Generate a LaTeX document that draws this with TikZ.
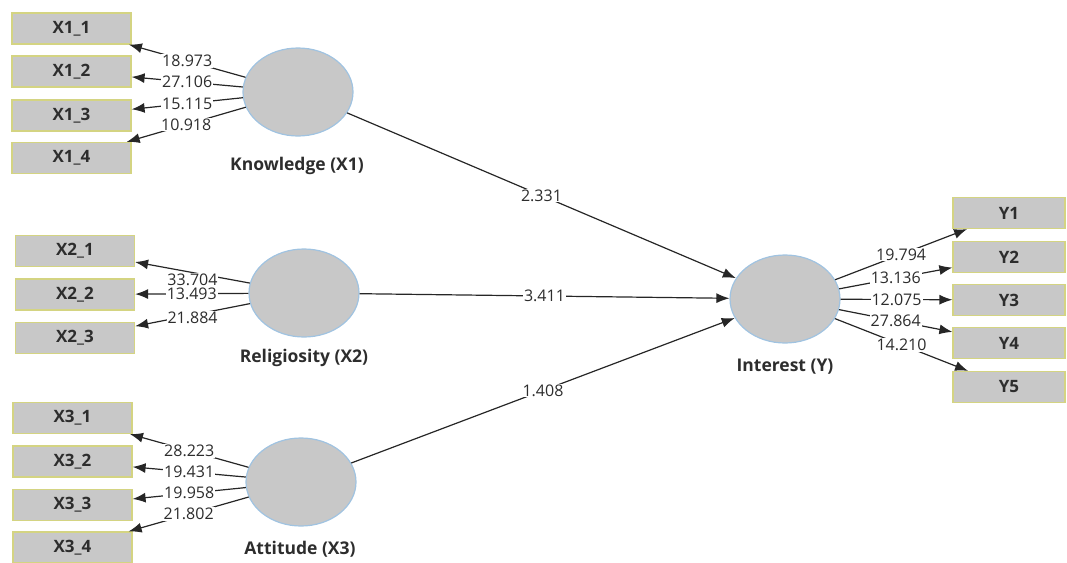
\documentclass[tikz,border=0pt]{standalone}
\usepackage{fontspec}
\setmainfont{Open Sans}
\usetikzlibrary{shapes.geometric,arrows.meta}
\definecolor{boxfill}{RGB}{200,200,200}
\definecolor{boxline}{RGB}{212,212,130}
\definecolor{ellline}{RGB}{160,195,225}
\definecolor{txt}{RGB}{45,45,45}
\begin{document}
\begin{tikzpicture}[x=1pt,y=-1pt,
  ind/.style={draw=boxline,fill=boxfill,line width=1.2pt,minimum width=119pt,minimum height=31pt,inner sep=0pt,font=\bfseries\fontsize{17}{17}\selectfont,text=txt},
  indy/.style={ind,minimum width=112pt},
  lat/.style={ellipse,draw=ellline,fill=boxfill,line width=1.2pt,minimum width=110pt,minimum height=88pt,inner sep=0pt},
  latname/.style={font=\bfseries\fontsize{17.5}{18}\selectfont,text=txt},
  conn/.style={draw=black!85,line width=1.2pt,-{Latex[length=13pt,width=10pt]}},
  val/.style={fill=white,inner sep=1pt,font=\fontsize{16}{16}\selectfont,text=txt}]
\useasboundingbox (0,0) rectangle (1067,562);

% indicators X1
\node[ind] (X11) at (71.5,28.5) {X1\_1};
\node[ind] (X12) at (71.5,71.5) {X1\_2};
\node[ind] (X13) at (71.5,115.5) {X1\_3};
\node[ind] (X14) at (71.5,158) {X1\_4};
% indicators X2
\node[ind] (X21) at (75,251) {X2\_1};
\node[ind] (X22) at (75,294.5) {X2\_2};
\node[ind] (X23) at (75,338) {X2\_3};
% indicators X3
\node[ind] (X31) at (72.5,418) {X3\_1};
\node[ind] (X32) at (72.5,461.5) {X3\_2};
\node[ind] (X33) at (72.5,505) {X3\_3};
\node[ind] (X34) at (72.5,547.5) {X3\_4};
% indicators Y
\node[indy] (Y1) at (1009,213) {Y1};
\node[indy] (Y2) at (1009,257) {Y2};
\node[indy] (Y3) at (1009,300) {Y3};
\node[indy] (Y4) at (1009,343) {Y4};
\node[indy] (Y5) at (1009,387) {Y5};

% latent variables
\node[lat] (K) at (298,92) {};
\node[lat] (R) at (304,293) {};
\node[lat] (A) at (301,482) {};
\node[lat] (I) at (785,299) {};
\node[latname] (Kn) at (297,166) {Knowledge (X1)};
\node[latname] (Rn) at (304,358) {Religiosity (X2)};
\node[latname] (An) at (300,549) {Attitude (X3)};
\node[latname] (In) at (785,367) {Interest (Y)};

% outer loadings
\draw[conn] (K) -- node[val] {18.973} (X11);
\draw[conn] (K) -- node[val] {27.106} (X12);
\draw[conn] (K) -- node[val] {15.115} (X13);
\draw[conn] (K) -- node[val] {10.918} (X14);
\draw[conn] (R) -- node[val,yshift=-7pt] {33.704} (X21);
\draw[conn] (R) -- node[val] {13.493} (X22);
\draw[conn] (R) -- node[val,yshift=-3pt] {21.884} (X23);
\draw[conn] (A) -- node[val] {28.223} (X31);
\draw[conn] (A) -- node[val] {19.431} (X32);
\draw[conn] (A) -- node[val] {19.958} (X33);
\draw[conn] (A) -- node[val] {21.802} (X34);
\draw[conn] (I) -- node[val] {19.794} (Y1);
\draw[conn] (I) -- node[val] {13.136} (Y2);
\draw[conn] (I) -- node[val] {12.075} (Y3);
\draw[conn] (I) -- node[val] {27.864} (Y4);
\draw[conn] (I) -- node[val] {14.210} (Y5);

% inner paths
\draw[conn] (K) -- node[val] {2.331} (I);
\draw[conn] (R) -- node[val] {3.411} (I);
\draw[conn] (A) -- node[val] {1.408} (I);
\end{tikzpicture}
\end{document}
